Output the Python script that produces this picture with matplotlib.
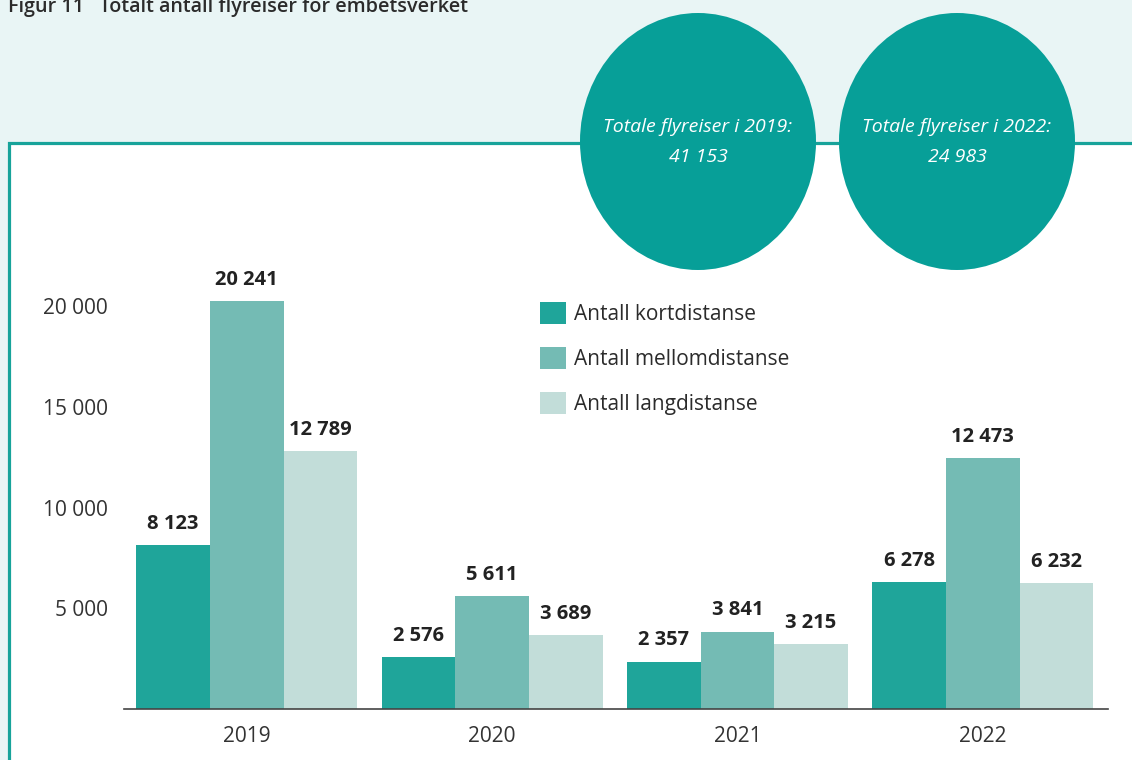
import numpy as np
import matplotlib
matplotlib.use('Agg')
import matplotlib.pyplot as plt
from matplotlib.patches import Rectangle, Ellipse

# Data
years = ['2019', '2020', '2021', '2022']
kort = [8123, 2576, 2357, 6278]
mellom = [20241, 5611, 3841, 12473]
lang = [12789, 3689, 3215, 6232]
series_names = ['Antall kortdistanse', 'Antall mellomdistanse', 'Antall langdistanse']
totals = {'2019': '41 153', '2022': '24 983'}
yticks = [5000, 10000, 15000, 20000]

colors = ['#1fa59a', '#74bbb4', '#c2ddd9']
teal = '#079f98'
mint = '#e9f5f5'

plt.rcParams['font.family'] = ['Open Sans', 'DejaVu Sans']

W, H = 1132, 760
fig = plt.figure(figsize=(W / 100, H / 100), dpi=100, facecolor=mint)


def fx(x):
    return x / W


def fy(y):
    return 1 - y / H


# White box with teal border
fig.patches.append(Rectangle((fx(8.5), fy(800)), fx(1200), fy(142.5) - fy(800),
                             transform=fig.transFigure, facecolor='white',
                             edgecolor='#17a39a', linewidth=2.3, zorder=-1))

# Title (cut off at the top in the original)
fig.text(fx(8), fy(12), 'Figur 11   Totalt antall flyreiser for embetsverket',
         fontsize=14.2, fontweight='semibold', color='#2b2b2b', va='baseline', ha='left')

# Total circles
for cx, yr in [(698, '2019'), (957, '2022')]:
    fig.patches.append(Ellipse((fx(cx), fy(141.5)), 236 / W, 257 / H,
                               transform=fig.transFigure, facecolor=teal,
                               edgecolor='none', zorder=2))
    fig.text(fx(cx), fy(127), f'Totale flyreiser i {yr}:',
             ha='center', va='center', color='white', fontsize=14,
             style='italic', zorder=3)
    fig.text(fx(cx), fy(157), totals[yr],
             ha='center', va='center', color='white', fontsize=14,
             style='italic', zorder=3)

# Axes
ymax = 22000
top_px = 709 - ymax * 403 / 20000
ax = fig.add_axes([fx(124), fy(709), (1108 - 124) / W, (709 - top_px) / H])
ax.patch.set_visible(False)

x = np.arange(len(years))
w = 0.3
for i, (vals, name) in enumerate(zip([kort, mellom, lang], series_names)):
    bars = ax.bar(x + (i - 1) * w, vals, width=w, color=colors[i], label=name)
    for b, v in zip(bars, vals):
        ax.annotate(f'{v:,}'.replace(',', ' '),
                    (b.get_x() + b.get_width() / 2, v),
                    xytext=(0, 8), textcoords='offset points',
                    ha='center', va='bottom', fontsize=14.5,
                    fontweight='bold', color='#222222')

ax.set_xlim(-0.5, 3.51)
ax.set_ylim(0, ymax)
ax.set_xticks(x)
ax.set_xticklabels(years)
ax.set_yticks(yticks)
ax.set_yticklabels([f'{t:,}'.replace(',', ' ') for t in yticks])
ax.tick_params(axis='both', length=0, labelsize=15, labelcolor='#333333')
ax.tick_params(axis='y', pad=11.5)
ax.tick_params(axis='x', pad=12)

for s in ['top', 'right', 'left']:
    ax.spines[s].set_visible(False)
ax.spines['bottom'].set_color('#444444')
ax.spines['bottom'].set_linewidth(1.2)

ax.legend(loc='upper left', bbox_to_anchor=(fx(540), fy(302)),
          bbox_transform=fig.transFigure, frameon=False, fontsize=15,
          handlelength=1.25, handleheight=1.25, handletextpad=0.4,
          labelspacing=1.05, borderpad=0, borderaxespad=0,
          labelcolor='#2b2b2b')

fig.savefig('out.png', dpi=100, facecolor=fig.get_facecolor())
